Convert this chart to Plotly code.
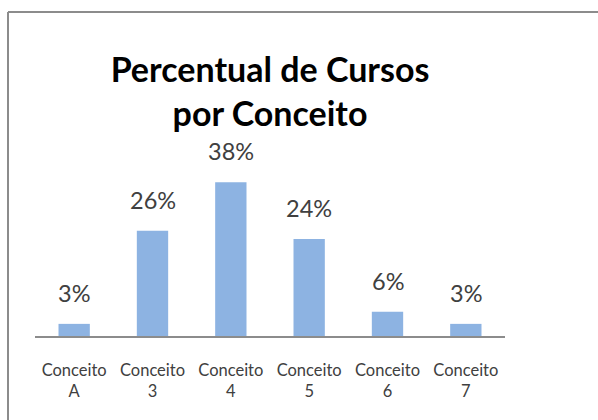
import plotly.graph_objects as go

categories = ["Conceito<br>A", "Conceito<br>3", "Conceito<br>4", "Conceito<br>5", "Conceito<br>6", "Conceito<br>7"]
values = [3, 26, 38, 24, 6, 3]
labels = ["3%", "26%", "38%", "24%", "6%", "3%"]

W_PX, H_PX = 598, 420
L, R = 35, 93
BASE = 335.7
YMAX = 45
PX_PER = 4.04
H = YMAX * PX_PER
T = BASE - H
B = H_PX - BASE
W = W_PX - L - R

def px_x(p):
    return (p - L) / W

def px_y(p):
    return (BASE - p) / H

fig = go.Figure()
fig.add_trace(go.Bar(x=categories, y=values, marker=dict(color="#8db3e2", line=dict(width=0)),
                     hoverinfo="skip"))

for c, v, t in zip(categories, values, labels):
    fig.add_annotation(x=c, y=v, text=t, showarrow=False, yanchor="middle", yshift=31,
                       font=dict(family="Lato", size=23.5, color="#404040"))

# outer border (top and left)
fig.add_shape(type="line", xref="paper", yref="paper", x0=px_x(8), x1=px_x(610), y0=px_y(12), y1=px_y(12),
              line=dict(color="#8c8c8c", width=2))
fig.add_shape(type="line", xref="paper", yref="paper", x0=px_x(8), x1=px_x(8), y0=px_y(12), y1=px_y(430),
              line=dict(color="#8c8c8c", width=2))

fig.update_layout(
    width=W_PX, height=H_PX,
    margin=dict(l=L, r=R, t=T, b=B, pad=0),
    paper_bgcolor="white", plot_bgcolor="white",
    bargap=0.6,
    showlegend=False,
    title=dict(text="<b>Percentual de Cursos<br>por Conceito</b>", x=0.5, xref="paper", xanchor="center",
               y=1 - 81.5 / H_PX, yref="container", yanchor="middle",
               font=dict(family="Lato", size=34, color="#000000")),
    xaxis=dict(showline=True, linecolor="#8c8c8c", linewidth=1.5, ticks="", showgrid=False,
               tickfont=dict(family="Lato", size=16.5, color="#404040"), ticklabelstandoff=18,
               fixedrange=True),
    yaxis=dict(range=[0, YMAX], visible=False, showgrid=False, fixedrange=True),
)

fig.write_html("out.html", config={"displayModeBar": False},
               post_script="document.body.style.margin='0px';")
